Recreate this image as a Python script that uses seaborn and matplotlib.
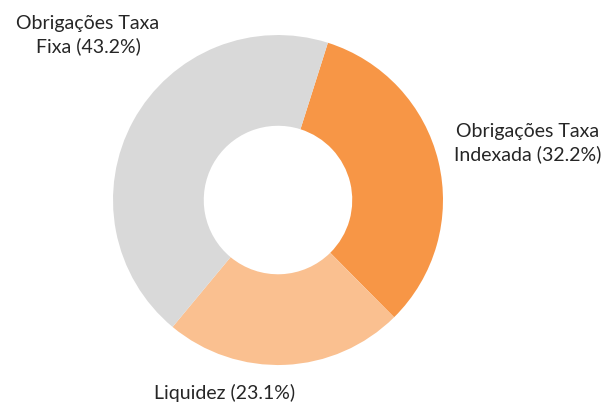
import matplotlib
matplotlib.use("Agg")
import matplotlib.pyplot as plt
import seaborn as sns

sns.set_theme(style="white")
plt.rcParams['font.family'] = ['Lato', 'DejaVu Sans']

# dados
categorias = ["Obrigações Taxa\nIndexada", "Liquidez", "Obrigações Taxa\nFixa"]
valores = [32.2, 23.1, 43.2]
cores = ["#F79646", "#FAC090", "#D9D9D9"]

fig = plt.figure(figsize=(6.06, 4.05), dpi=100)
ax = fig.add_axes([0, 0, 1, 1])

ax.pie(valores, colors=cores, startangle=72.4, counterclock=False,
       radius=1.0, wedgeprops=dict(width=0.55, linewidth=0))

# posicao dos rotulos
pos = [(1.515, 0.345), (-0.321, -1.17), (-1.152, 1.0)]
for nome, v, (x, y) in zip(categorias, valores, pos):
    ax.text(x, y, f"{nome} ({v:.1f}%)", ha="center", va="center",
            fontsize=14, color="#262626", linespacing=1.3)

ax.set_xlim(-1.685, 1.988)
ax.set_ylim(-1.242, 1.212)
ax.set_aspect("equal")
ax.axis("off")

fig.savefig("out.png", dpi=100)
